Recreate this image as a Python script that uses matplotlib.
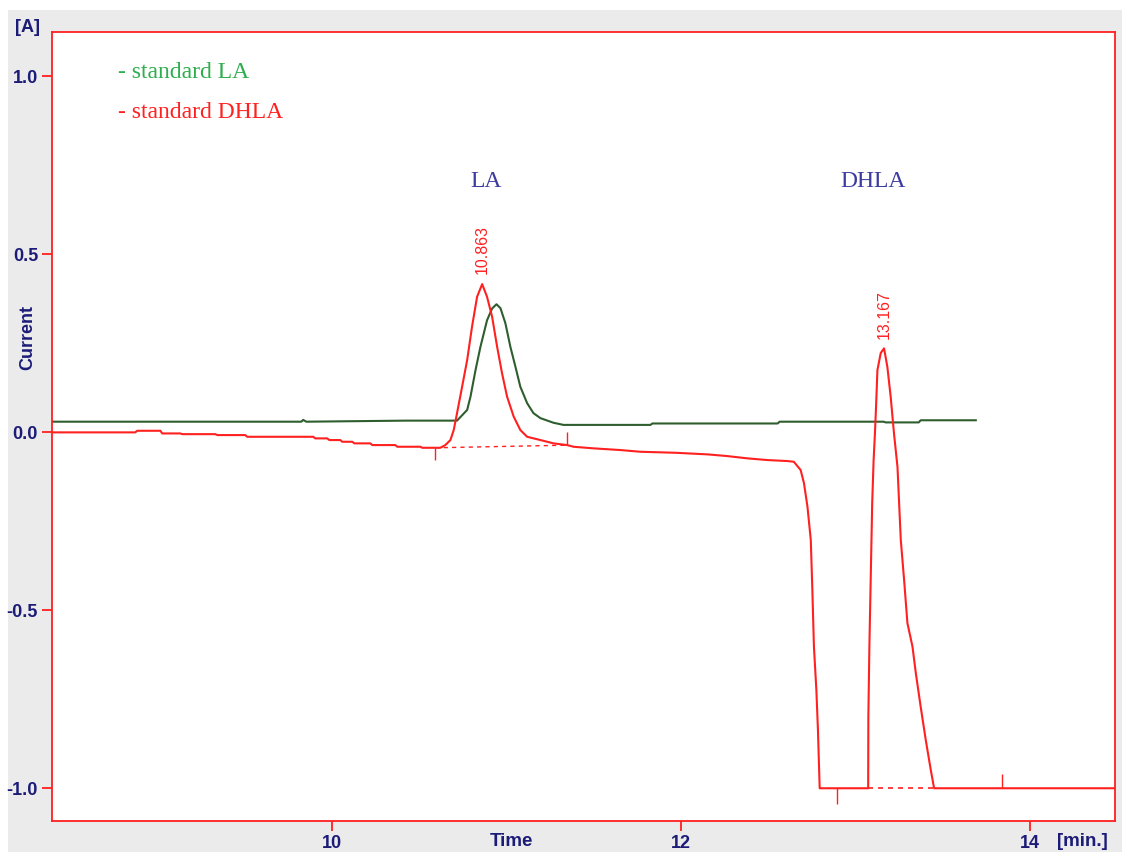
import matplotlib
matplotlib.use("Agg")
import matplotlib.pyplot as plt
from matplotlib.patches import Rectangle

# standard LA (green trace)
la_time = [8.40, 9.825, 9.836, 9.854, 10.427, 10.718, 10.776, 10.795, 10.824,
           10.852, 10.890, 10.919, 10.944, 10.967, 10.995, 11.024, 11.053,
           11.081, 11.120, 11.156, 11.196, 11.271, 11.328, 11.827, 11.838,
           12.556, 12.567, 13.164, 13.175, 13.365, 13.376, 13.692]
la_curr = [0.030, 0.030, 0.035, 0.030, 0.033, 0.033, 0.063, 0.100, 0.175,
           0.240, 0.315, 0.348, 0.360, 0.349, 0.307, 0.240, 0.184,
           0.128, 0.082, 0.054, 0.040, 0.027, 0.021, 0.021, 0.025,
           0.025, 0.030, 0.030, 0.028, 0.028, 0.034, 0.034]

# standard DHLA (red trace)
dhla_time = [8.396, 8.873, 8.885, 9.017, 9.028, 9.132, 9.143, 9.332, 9.344,
             9.504, 9.515, 9.894, 9.905, 9.974, 9.986, 10.049, 10.060, 10.118,
             10.129, 10.221, 10.232, 10.364, 10.376, 10.508, 10.519, 10.622,
             10.651, 10.680, 10.699, 10.718, 10.747, 10.776, 10.804, 10.833,
             10.862, 10.890, 10.919, 10.948, 10.976, 11.005, 11.043, 11.081,
             11.120, 11.196, 11.271, 11.349, 11.386, 11.500, 11.655, 11.770,
             11.970, 12.153, 12.267, 12.382, 12.497, 12.612, 12.649, 12.688,
             12.707, 12.727, 12.746, 12.755, 12.764, 12.778, 12.787, 12.797,
             13.075, 13.076, 13.082, 13.090, 13.098, 13.106,
             13.114, 13.120, 13.128, 13.147, 13.166, 13.185, 13.204, 13.223,
             13.243, 13.262, 13.281, 13.300, 13.329, 13.348, 13.376, 13.405,
             13.434, 13.453, 14.49]
dhla_curr = [0.0, 0.0, 0.0045, 0.0045, -0.003, -0.003, -0.005, -0.005, -0.0076,
             -0.0076, -0.0124, -0.0124, -0.0169, -0.0169, -0.0216, -0.0216, -0.0264, -0.0264,
             -0.0309, -0.0309, -0.0357, -0.0357, -0.0404, -0.0404, -0.0433, -0.0433,
             -0.0357, -0.0216, 0.0065, 0.054, 0.128, 0.203, 0.297, 0.381,
             0.4166, 0.381, 0.325, 0.240, 0.166, 0.100, 0.044, 0.0065,
             -0.0124, -0.0216, -0.0309, -0.0357, -0.0404, -0.0449, -0.0497, -0.0545,
             -0.0573, -0.0618, -0.0666, -0.0730, -0.0778, -0.0806, -0.0826, -0.106,
             -0.143, -0.209, -0.3025, -0.443, -0.602, -0.724, -0.836, -1.0,
             -1.0, -0.80, -0.60, -0.40, -0.20, -0.08,
             0.0, 0.070, 0.175, 0.223, 0.236, 0.184, 0.100, -0.003,
             -0.097, -0.3025, -0.415, -0.536, -0.602, -0.676, -0.771, -0.864,
             -0.949, -1.0, -1.0]

# integration baselines and peak marks
base1_time = [10.594, 11.349]
base1_curr = [-0.0433, -0.036]
base2_time = [13.075, 13.453]
base2_curr = [-1.0, -1.0]
peak_times = [10.862, 13.166]
peak_curr = [0.4166, 0.236]
peak_labels = ['10.863', '13.167']

navy = '#1c1c78'
red = '#ff2020'
green = '#2e5e2e'

fig = plt.figure(figsize=(11.28, 8.52), dpi=100, facecolor='white')
fig.patches.append(Rectangle((8 / 1128, 0), 1114 / 1128, 1 - 10 / 852,
                             transform=fig.transFigure, facecolor='#ebebeb',
                             edgecolor='none', zorder=-10))

ax = fig.add_axes([52 / 1128, 1 - 821 / 852, (1115 - 52) / 1128, (821 - 32) / 852])
ax.set_facecolor('white')
for s in ax.spines.values():
    s.set_color(red)
    s.set_linewidth(1.3)

ax.plot(la_time, la_curr, color=green, lw=1.5)
ax.plot(dhla_time, dhla_curr, color=red, lw=1.5)
ax.plot(base1_time, base1_curr, color=red, lw=1.0, ls=(0, (3, 3)))
ax.plot(base2_time, base2_curr, color=red, lw=1.2, ls=(0, (3, 3)))

# start/end marks of integration
ax.vlines([10.594], -0.0433 - 0.035, -0.0433, color=red, lw=1.0)
ax.vlines([11.349], -0.036, -0.036 + 0.037, color=red, lw=1.0)
ax.vlines([12.898], -1.0 - 0.045, -1.0, color=red, lw=1.0)
ax.vlines([13.845], -1.0, -1.0 + 0.04, color=red, lw=1.0)

for t, c, lab in zip(peak_times, peak_curr, peak_labels):
    ax.annotate(lab, (t, c), xytext=(0, 7), textcoords='offset points',
                rotation=90, ha='center', va='bottom', color=red,
                fontsize=11.5, family='Liberation Sans')

ax.set_xlim(8.396, 14.49)
ax.set_ylim(-1.092, 1.125)
ax.set_xticks([10, 12, 14])
ax.set_yticks([1.0, 0.5, 0.0, -0.5, -1.0])
ax.set_yticklabels(['1.0', '0.5', '0.0', '-0.5', '-1.0'])
ax.tick_params(axis='both', direction='out', length=7, width=1.3, color=red,
               labelcolor=navy, labelsize=13, pad=3)
for lab in ax.get_xticklabels() + ax.get_yticklabels():
    lab.set_fontweight('bold')
    lab.set_family(['Liberation Sans Narrow', 'Liberation Sans'])

# peak names and legend text
ax.text(10.885, 0.705, 'LA', color='#3b3ba0', fontsize=17, family='Liberation Serif',
        ha='center', va='center')
ax.text(13.105, 0.705, 'DHLA', color='#3b3ba0', fontsize=17, family='Liberation Serif',
        ha='center', va='center')
fig.text(118 / 1128, 1 - 72 / 852, '- standard LA', color='#2fae4e', fontsize=17,
         family='Liberation Serif', va='center', ha='left')
fig.text(118 / 1128, 1 - 112 / 852, '- standard DHLA', color=red, fontsize=17,
         family='Liberation Serif', va='center', ha='left')

bold = dict(color=navy, fontweight='bold', family=['Liberation Sans Narrow', 'Liberation Sans'])
fig.text(28 / 1128, 1 - 27 / 852, '[A]', fontsize=13, ha='center', va='center', **bold)
fig.text(28 / 1128, 1 - 337 / 852, 'Current', fontsize=13, rotation=90,
         ha='center', va='center', **bold)
fig.text(511 / 1128, 1 - 842 / 852, 'Time', fontsize=13.5, ha='center', va='center', **bold)
fig.text(1082 / 1128, 1 - 842 / 852, '[min.]', fontsize=13.5, ha='center', va='center', **bold)

fig.savefig('out.png', dpi=100, facecolor=fig.get_facecolor())
